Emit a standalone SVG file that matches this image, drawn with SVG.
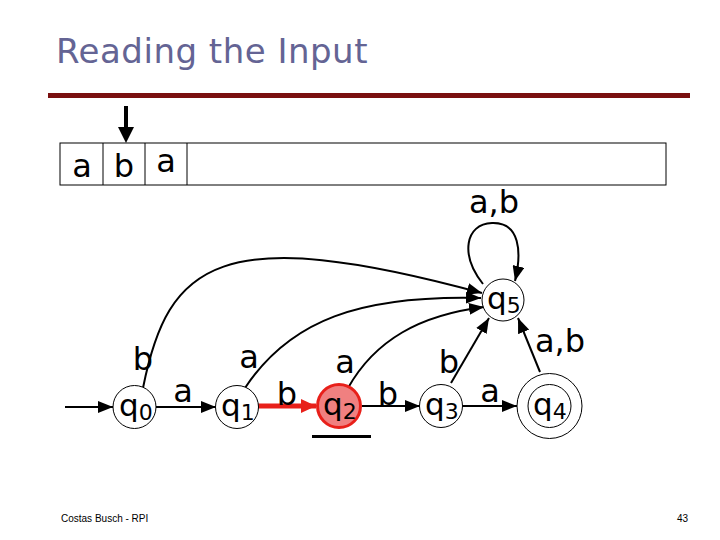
<svg xmlns="http://www.w3.org/2000/svg" width="720" height="540" viewBox="0 0 720 540">
<defs>
<marker id="ah" markerUnits="userSpaceOnUse" markerWidth="16" markerHeight="12" refX="15" refY="6" orient="auto"><path d="M0,0 L15,6 L0,12 Z" fill="#000"/></marker>
<marker id="ahr" markerUnits="userSpaceOnUse" markerWidth="16" markerHeight="14" refX="15" refY="7" orient="auto"><path d="M0,0 L15,7 L0,14 Z" fill="#e8201a"/></marker>
<style>
.st{fill:#fff;stroke:#000;stroke-width:1}
.e{fill:none;stroke:#000;stroke-width:2;marker-end:url(#ah)}
.lb{font-family:"DejaVu Sans",sans-serif;font-size:32px;fill:#000}
.q{font-family:"DejaVu Sans",sans-serif;font-size:31px;fill:#000}
.sub{font-size:22px}
</style>
</defs>
<rect width="720" height="540" fill="#fff"/>
<text x="56" y="63" font-family="DejaVu Sans,sans-serif" font-size="34" letter-spacing="0.5" fill="#646494">Reading the Input</text>
<rect x="48" y="93" width="642" height="5" fill="#7a1010"/>
<g id="tape">
<rect x="60" y="143" width="606" height="42" fill="#fff" stroke="#000" stroke-width="1"/>
<line x1="103" y1="143" x2="103" y2="185" stroke="#000"/>
<line x1="145" y1="143" x2="145" y2="185" stroke="#000"/>
<line x1="187" y1="143" x2="187" y2="185" stroke="#000"/>
<text class="lb" x="82" y="177" text-anchor="middle">a</text>
<text class="lb" x="124" y="177" text-anchor="middle">b</text>
<text class="lb" x="166" y="172" text-anchor="middle">a</text>
</g>
<g id="head">
<line x1="126" y1="106" x2="126" y2="128" stroke="#000" stroke-width="4"/>
<path d="M118,127 L134,127 L126,143 Z" fill="#000"/>
</g>
<g id="edges">
<line class="e" x1="65" y1="407" x2="113" y2="407"/>
<line class="e" x1="156" y1="407" x2="216" y2="407"/>
<line x1="258" y1="406" x2="316" y2="406" stroke="#e8201a" stroke-width="5" marker-end="url(#ahr)"/>
<line class="e" x1="362" y1="406" x2="420" y2="406"/>
<line class="e" x1="462" y1="406" x2="517" y2="406"/>
<path class="e" d="M143,388 C168,262 220,222 482,293"/>
<path class="e" d="M245,388 C290,320 360,295 481,298"/>
<path class="e" d="M348,388 C375,340 420,315 484,307"/>
<line class="e" x1="451" y1="383" x2="489" y2="318"/>
<line class="e" x1="540" y1="372" x2="518" y2="318"/>
<path class="e" d="M483,284 C460,255 465,224 492,223 C520,222 522,252 515,281"/>
<text class="lb" x="143" y="370" text-anchor="middle">b</text>
<text class="lb" x="249" y="368" text-anchor="middle">a</text>
<text class="lb" x="345" y="373" text-anchor="middle">a</text>
<text class="lb" x="449" y="373" text-anchor="middle">b</text>
<text class="lb" x="560" y="352" text-anchor="middle">a,b</text>
<text class="lb" x="494" y="213" text-anchor="middle">a,b</text>
<text class="lb" x="183" y="402" text-anchor="middle">a</text>
<text class="lb" x="287" y="405" text-anchor="middle">b</text>
<text class="lb" x="388" y="405" text-anchor="middle">b</text>
<text class="lb" x="490" y="402" text-anchor="middle">a</text>
</g>
<g id="q0"><circle class="st" cx="134.5" cy="407" r="21.5"/><text class="q" x="119" y="416">q<tspan class="sub" dy="4">0</tspan></text></g>
<g id="q1"><circle class="st" cx="237" cy="407" r="21.5"/><text class="q" x="221" y="416">q<tspan class="sub" dy="4">1</tspan></text></g>
<g id="q2"><circle cx="339" cy="406" r="21.5" fill="#f08080" stroke="#e8201a" stroke-width="3"/><text class="q" x="323" y="415">q<tspan class="sub" dy="4">2</tspan></text></g>
<g id="q3"><circle class="st" cx="441" cy="406" r="21.5"/><text class="q" x="425" y="415">q<tspan class="sub" dy="4">3</tspan></text></g>
<g id="q4"><circle class="st" cx="549.5" cy="406" r="32.5"/><circle class="st" cx="549.5" cy="406" r="21.5"/><text class="q" x="533" y="415">q<tspan class="sub" dy="4">4</tspan></text></g>
<g id="q5"><circle class="st" cx="503" cy="300" r="21"/><text class="q" x="487" y="309">q<tspan class="sub" dy="4">5</tspan></text></g>
<rect x="312" y="435" width="59" height="3" fill="#000"/>
<text x="61" y="522" font-family="Liberation Sans,sans-serif" font-size="10" fill="#000">Costas Busch - RPI</text>
<text x="688" y="522" font-family="Liberation Sans,sans-serif" font-size="10" fill="#000" text-anchor="end">43</text>
</svg>
